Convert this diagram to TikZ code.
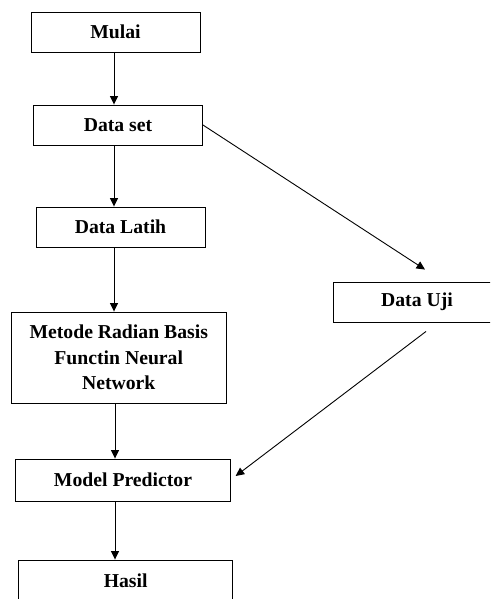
\documentclass[tikz,border=0pt]{standalone}
\usepackage{fontspec}
\setmainfont{Liberation Serif}
\usetikzlibrary{arrows.meta,calc}
\begin{document}
\begin{tikzpicture}[x=1pt,y=-1pt,
  box/.style={draw=black,line width=0.9pt,rectangle,inner sep=0pt,align=center,
    font=\fontsize{19.7}{25.3}\selectfont\bfseries},
  arr/.style={draw=black,line width=0.9pt,-{Triangle[length=8.5pt,width=8pt]}}]
\useasboundingbox (0,0) rectangle (490,599);
\clip (0,0) rectangle (490,599);
\node[box,minimum width=169pt,minimum height=40pt] (mulai) at (115.5,32) {Mulai};
\node[box,minimum width=169pt,minimum height=40pt] (dataset) at (118,125) {Data set};
\node[box,minimum width=169pt,minimum height=40pt] (latih) at (120.5,227) {Data Latih};
\node[box,minimum width=168pt,minimum height=40pt] (uji) at (417,302) {Data Uji};
\node[box,minimum width=214.5pt,minimum height=91pt] (metode) at (118.75,357.5) {Metode Radian Basis\\Functin Neural\\Network};
\node[box,minimum width=214.5pt,minimum height=42pt] (model) at (123,480) {Model Predictor};
\node[box,minimum width=214pt,minimum height=42pt] (hasil) at (125.7,581) {Hasil};
\draw[arr] (mulai.south -| 114,0) -- (dataset.north -| 114,0);
\draw[arr] (dataset.south -| 114,0) -- (latih.north -| 114,0);
\draw[arr] (latih.south -| 114,0) -- (metode.north -| 114,0);
\draw[arr] (metode.south -| 115,0) -- (model.north -| 115,0);
\draw[arr] (model.south -| 115,0) -- (hasil.north -| 115,0);
\draw[arr] (dataset.east) -- ($(uji.north)+(8,-12)$);
\draw[arr] ($(uji.south)+(9,9)$) -- ($(model.east)+(5,-4)$);
\end{tikzpicture}
\end{document}
